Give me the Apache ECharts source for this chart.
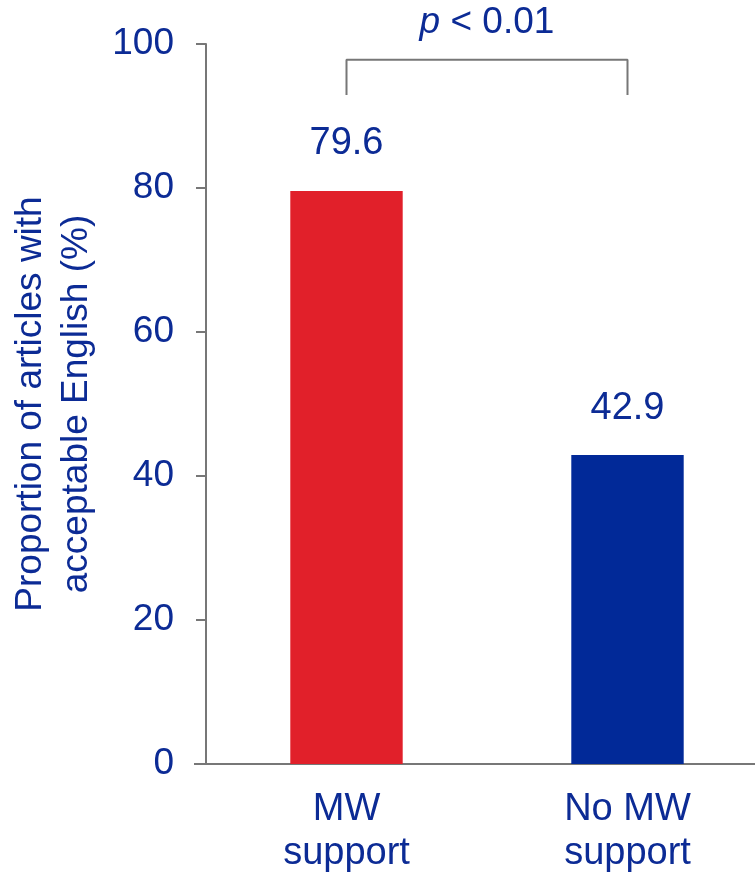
<!DOCTYPE html>
<html>
<head>
<meta charset="utf-8">
<script src="https://cdn.jsdelivr.net/npm/echarts@6/dist/echarts.min.js"></script>
<style>
  html, body { margin: 0; padding: 0; background: #ffffff; }
  #chart { width: 755px; height: 875px; }
</style>
</head>
<body>
<div id="chart"></div>
<script>
// Share of articles judged to have acceptable English, by editing support
const categories = ['MW\nsupport', 'No MW\nsupport'];
const proportions = [79.6, 42.9];
const barColors = ['#e1202a', '#012998'];
const yTicks = [0, 20, 40, 60, 80, 100];
// Significance bracket: spans both bars, from leg bottom to top bar (in %)
const bracketLow = 92.9;
const bracketHigh = 97.8;
const pLabel = '< 0.01';

const textBlue = '#0c2b95';
const axisGray = '#777777';
const font = '"Liberation Sans", Arial, sans-serif';

const chart = echarts.init(document.getElementById('chart'), null, { renderer: 'canvas' });

const option = {
  backgroundColor: '#ffffff',
  animation: false,
  grid: {
    left: 206, top: 44, width: 562, height: 720,
    containLabel: false, outerBoundsMode: 'none'
  },
  xAxis: {
    type: 'category',
    data: categories,
    boundaryGap: true,
    axisLine: { show: true, lineStyle: { color: axisGray, width: 2 } },
    axisTick: { show: false },
    axisLabel: {
      color: textBlue, fontFamily: font, fontSize: 38, lineHeight: 44,
      margin: 24, interval: 0
    },
    splitLine: { show: false }
  },
  yAxis: {
    type: 'value',
    min: yTicks[0],
    max: yTicks[yTicks.length - 1],
    interval: 20,
    name: 'Proportion of articles with\nacceptable English (%)',
    nameLocation: 'middle',
    nameGap: 106,
    nameTextStyle: { color: textBlue, fontFamily: font, fontSize: 37, lineHeight: 46 },
    axisLine: { show: true, lineStyle: { color: axisGray, width: 2 } },
    axisTick: { show: true, inside: false, length: 10, lineStyle: { color: axisGray, width: 2 } },
    axisLabel: { color: textBlue, fontFamily: font, fontSize: 37, margin: 32 },
    splitLine: { show: false }
  },
  series: [
    {
      type: 'bar',
      barWidth: '40%',
      data: proportions.map((v, i) => ({ value: v, itemStyle: { color: barColors[i] } })),
      label: {
        show: true, position: 'top', distance: 28,
        color: textBlue, fontFamily: font, fontSize: 38,
        formatter: p => p.value.toFixed(1)
      }
    },
    {
      type: 'line',
      data: [[0, bracketLow], [0, bracketHigh], [1, bracketHigh], [1, bracketLow]],
      symbol: 'none',
      lineStyle: { color: axisGray, width: 2 },
      silent: true,
      clip: false
    }
  ]
};
chart.setOption(option);

// p-value annotation above the bracket, and the x axis line's short stub left of the y axis
const leftX = chart.convertToPixel({ gridIndex: 0 }, [0, bracketHigh]);
const rightX = chart.convertToPixel({ gridIndex: 0 }, [1, bracketHigh]);
const origin = chart.convertToPixel({ gridIndex: 0 }, [0, 0]);
const gridLeft = option.grid.left;
chart.setOption({
  graphic: [
    {
      type: 'text',
      x: (leftX[0] + rightX[0]) / 2,
      y: leftX[1] - 19,
      style: {
        text: '{i|p} ' + pLabel,
        rich: { i: { fontStyle: 'italic', fontFamily: font, fontSize: 37, fill: textBlue } },
        fill: textBlue, font: '37px ' + font,
        align: 'center', verticalAlign: 'bottom'
      }
    },
    {
      type: 'line',
      shape: { x1: gridLeft - 12, y1: origin[1], x2: gridLeft, y2: origin[1] },
      style: { stroke: axisGray, lineWidth: 2 }
    }
  ]
});
</script>
</body>
</html>
